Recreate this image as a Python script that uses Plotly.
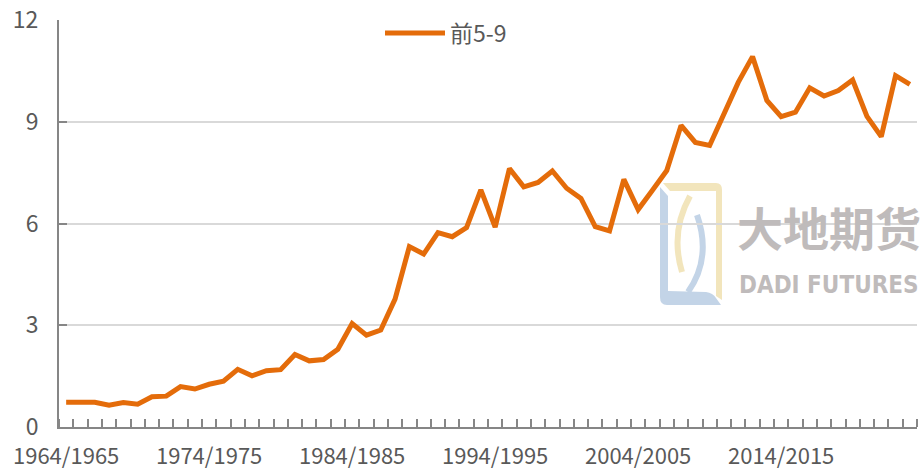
import plotly.graph_objects as go

categories = [f"{y}/{y+1}" for y in range(1964, 2024)]
values = [0.73, 0.74, 0.73, 0.64, 0.72, 0.67, 0.89, 0.91, 1.19, 1.12,
          1.26, 1.35, 1.70, 1.51, 1.66, 1.69, 2.14, 1.95, 1.99, 2.29,
          3.05, 2.71, 2.86, 3.77, 5.32, 5.10, 5.73, 5.61, 5.88, 6.99,
          5.89, 7.62, 7.08, 7.21, 7.55, 7.04, 6.74, 5.91, 5.78, 7.30,
          6.41, 6.98, 7.56, 8.89, 8.39, 8.30, 9.21, 10.16, 10.92, 9.63,
          9.15, 9.28, 10.00, 9.76, 9.92, 10.23, 9.16, 8.56, 10.36, 10.10]
series_name = "前5-9"
label_every = 10
y_ticks = [0, 3, 6, 9, 12]

W, H = 920, 469
L, R, T, B = 59, 3, 20, 42
PW, PH = W - L - R, H - T - B


def fx(px):
    return (px - L) / PW


def fy(py):
    return (H - B - py) / PH


def path(points):
    out = []
    for cmd, *xy in points:
        if cmd == "Z":
            out.append("Z")
        else:
            coords = " ".join(
                f"{fx(xy[i]):.5f},{fy(xy[i+1]):.5f}" for i in range(0, len(xy), 2)
            )
            out.append(f"{cmd}{coords}")
    return " ".join(out)


idx = list(range(len(categories)))
tickvals = idx[::label_every]
ticktext = categories[::label_every]

fig = go.Figure()
fig.add_trace(go.Scatter(
    x=idx, y=values, mode="lines", name=series_name,
    line=dict(color="#E46C0A", width=5),
    customdata=categories,
    hovertemplate="%{customdata}: %{y}<extra></extra>",
))

font = "Noto Sans CJK SC"
gray_txt = "#595959"
axis_col = "#868686"
yellow = "#F2E5BC"
blue = "#C3D4E7"

shapes = [
    dict(type="path", layer="below", xref="paper", yref="paper",
         line=dict(width=0), fillcolor=yellow,
         path=path([("M", 663, 183), ("L", 716, 183), ("Q", 722, 183, 722, 190),
                    ("L", 722, 300), ("L", 716, 296), ("L", 716, 191),
                    ("L", 670, 191), ("Z",)])),
    dict(type="path", layer="below", xref="paper", yref="paper",
         line=dict(color=yellow, width=6),
         path=path([("M", 690, 196), ("Q", 670, 232, 682, 272)])),
    dict(type="path", layer="below", xref="paper", yref="paper",
         line=dict(width=0), fillcolor=blue,
         path=path([("M", 660, 187), ("L", 668, 196), ("L", 668, 291),
                    ("L", 706, 292), ("Q", 713, 293, 716, 298), ("L", 721, 305),
                    ("L", 667, 305), ("Q", 660, 305, 660, 297), ("Z",)])),
    dict(type="path", layer="below", xref="paper", yref="paper",
         line=dict(color=blue, width=6),
         path=path([("M", 697, 215), ("Q", 712, 258, 688, 292)])),
]

annotations = [
    dict(text="大地期货", xref="paper", yref="paper", x=fx(829), y=fy(226),
         xanchor="center", yanchor="middle", showarrow=False,
         font=dict(family=font, size=46, color="#BFBBBB", weight="bold")),
    dict(text="DADI FUTURES", xref="paper", yref="paper", x=fx(829), y=fy(285),
         xanchor="center", yanchor="middle", showarrow=False,
         font=dict(family="DejaVu Sans Condensed, DejaVu Sans", size=24,
                   color="#BFBBBB", weight="bold")),
]

fig.update_layout(
    width=W, height=H,
    margin=dict(l=L, r=R, t=T, b=B, pad=0),
    paper_bgcolor="white", plot_bgcolor="white",
    font=dict(family=font, size=23, color=gray_txt),
    showlegend=True,
    legend=dict(orientation="h", x=fx(380), y=fy(33), xanchor="left",
                yanchor="middle", bgcolor="rgba(0,0,0,0)",
                font=dict(family=font, size=23, color=gray_txt),
                itemwidth=60),
    shapes=shapes,
    annotations=annotations,
    xaxis=dict(
        range=[-0.5, len(categories) - 0.5],
        tickmode="array", tickvals=tickvals, ticktext=ticktext,
        ticks="", showgrid=False, zeroline=False,
        showline=True, linecolor=axis_col, linewidth=2,
        ticklabelstandoff=9, automargin=False,
        tickfont=dict(family=font, size=22, color=gray_txt),
        minor=dict(tick0=0.5, dtick=1, ticks="inside", ticklen=8,
                   tickcolor=axis_col, tickwidth=1.5, showgrid=False),
    ),
    yaxis=dict(
        range=[0, 12], tickmode="array", tickvals=y_ticks,
        ticks="inside", ticklen=8, tickcolor=axis_col, tickwidth=1.5,
        showgrid=True, gridcolor="#D9D9D9", gridwidth=1.5,
        zeroline=False, showline=True, linecolor=axis_col, linewidth=2,
        ticklabelstandoff=14, automargin=False,
        tickfont=dict(family=font, size=23, color=gray_txt),
    ),
)

fig.write_html(
    "out.html",
    config={"displayModeBar": False},
    post_script="document.body.style.margin='0';document.body.style.overflow='hidden';",
)
